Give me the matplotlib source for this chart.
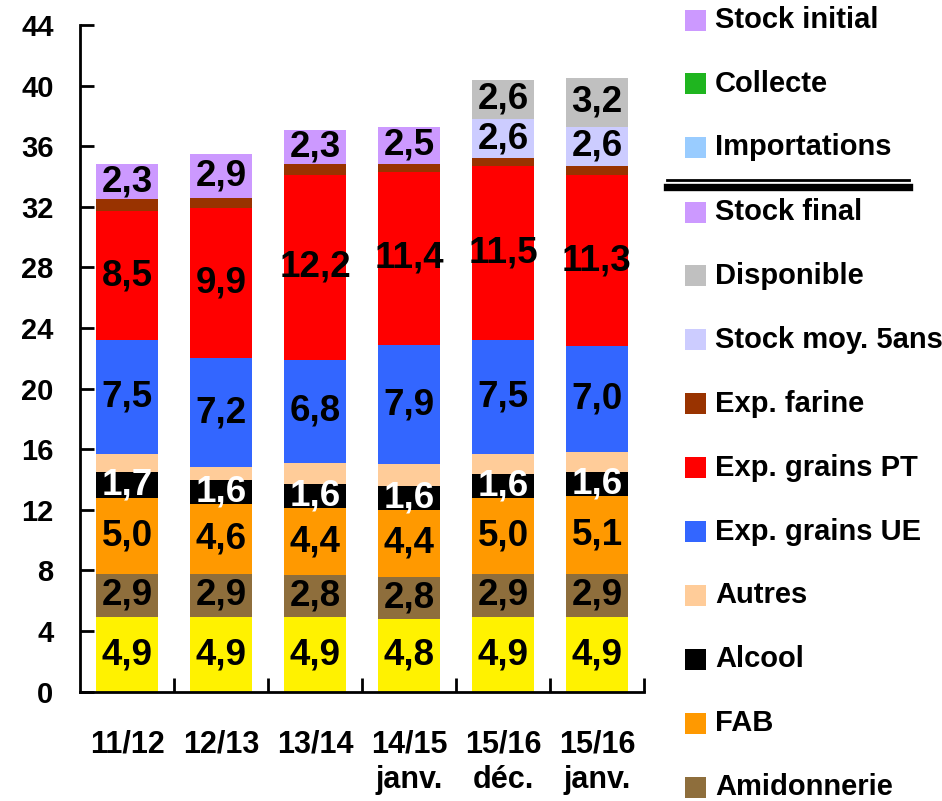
import numpy as np
import matplotlib
matplotlib.use("Agg")
import matplotlib.pyplot as plt
from matplotlib.patches import Rectangle
from matplotlib.lines import Line2D

# Campagnes
campagnes = ["11/12", "12/13", "13/14", "14/15\njanv.", "15/16\ndéc.", "15/16\njanv."]

# Utilisations (Mt), de bas en haut
meunerie = [4.9, 4.9, 4.9, 4.8, 4.9, 4.9]
amidonnerie = [2.9, 2.9, 2.8, 2.8, 2.9, 2.9]
fab = [5.0, 4.6, 4.4, 4.4, 5.0, 5.1]
alcool = [1.7, 1.6, 1.6, 1.6, 1.6, 1.6]
autres = [1.2, 0.8, 1.4, 1.4, 1.3, 1.3]
exp_ue = [7.5, 7.2, 6.8, 7.9, 7.5, 7.0]
exp_pt = [8.5, 9.9, 12.2, 11.4, 11.5, 11.3]
exp_farine = [0.8, 0.7, 0.7, 0.5, 0.5, 0.6]
stock_moy = [0, 0, 0, 0, 2.6, 2.6]
disponible = [0, 0, 0, 0, 2.6, 3.2]
stock_final = [2.3, 2.9, 2.3, 2.5, 0, 0]

# (valeurs, couleur, couleur de l'étiquette ou None)
series = [
    (meunerie, "#FFF200", "black"),
    (amidonnerie, "#8E6E3C", "black"),
    (fab, "#FF9900", "black"),
    (alcool, "#000000", "white"),
    (autres, "#FFCC99", None),
    (exp_ue, "#3366FF", "black"),
    (exp_pt, "#FF0000", "black"),
    (exp_farine, "#993300", None),
    (stock_moy, "#CCCCFF", "black"),
    (disponible, "#C0C0C0", "black"),
    (stock_final, "#CC99FF", "black"),
]

# Légende (l'ordre affiché)
legende_haut = [("Stock initial", "#CC99FF"), ("Collecte", "#1FB51F"), ("Importations", "#99CCFF")]
legende_bas = [("Stock final", "#CC99FF"), ("Disponible", "#C0C0C0"), ("Stock moy. 5ans", "#CCCCFF"),
               ("Exp. farine", "#993300"), ("Exp. grains PT", "#FF0000"), ("Exp. grains UE", "#3366FF"),
               ("Autres", "#FFCC99"), ("Alcool", "#000000"), ("FAB", "#FF9900"),
               ("Amidonnerie", "#8E6E3C")]

plt.rcParams["font.family"] = ["Liberation Sans", "DejaVu Sans"]
plt.rcParams["font.weight"] = "bold"

W, H = 942, 801
fig = plt.figure(figsize=(W / 100, H / 100), dpi=100)
ax = fig.add_axes([80 / W, 1 - 691.7 / H, (644 - 80) / W, (691.7 - 25) / H])

x = np.arange(len(campagnes))
bottom = np.zeros(len(campagnes))
for valeurs, couleur, txt in series:
    valeurs = np.array(valeurs, dtype=float)
    ax.bar(x, valeurs, width=0.67, bottom=bottom, color=couleur, linewidth=0)
    if txt is not None:
        for xi, v, b in zip(x, valeurs, bottom):
            if v > 0:
                ax.text(xi, b + v / 2, f"{v:.1f}".replace(".", ","), ha="center", va="center",
                        fontsize=26.5, fontweight="bold", color=txt)
    bottom += valeurs

ax.set_xlim(-0.5, len(campagnes) - 0.5)
ax.set_ylim(0, 44)
ax.set_yticks(np.arange(0, 45, 4))
ax.tick_params(axis="y", direction="in", length=10, width=2, labelsize=21, pad=19)
ax.set_xticks(np.arange(0.5, len(campagnes), 1))
ax.set_xticklabels([])
ax.tick_params(axis="x", which="major", direction="in", length=10, width=2)
ax.set_xticks(x, minor=True)
ax.set_xticklabels(campagnes, minor=True, fontsize=22, fontweight="bold", linespacing=1.25)
ax.tick_params(axis="x", which="minor", length=0, pad=27)
for lab in ax.get_yticklabels():
    lab.set_fontweight("bold")
for s in ["top", "right"]:
    ax.spines[s].set_visible(False)
for s in ["left", "bottom"]:
    ax.spines[s].set_linewidth(2)

# Légende dessinée à la main, en pixels
def carre_legende(label, couleur, yc):
    fig.add_artist(Rectangle((685 / W, 1 - (yc + 10.5) / H), 21 / W, 21 / H,
                             transform=fig.transFigure, color=couleur, linewidth=0))
    fig.text(715 / W, 1 - yc / H, label, fontsize=21, fontweight="bold", va="center", ha="left")

for i, (lab, c) in enumerate(legende_haut):
    carre_legende(lab, c, 20 + 63.5 * i)
for i, (lab, c) in enumerate(legende_bas):
    carre_legende(lab, c, 212 + 63.9 * i)

fig.add_artist(Line2D([667 / W, 909 / W], [1 - 179.6 / H] * 2, transform=fig.transFigure,
                      color="black", linewidth=2))
fig.add_artist(Line2D([667 / W, 909 / W], [1 - 187 / H] * 2, transform=fig.transFigure,
                      color="black", linewidth=5.3))

fig.savefig("out.png", dpi=100)
